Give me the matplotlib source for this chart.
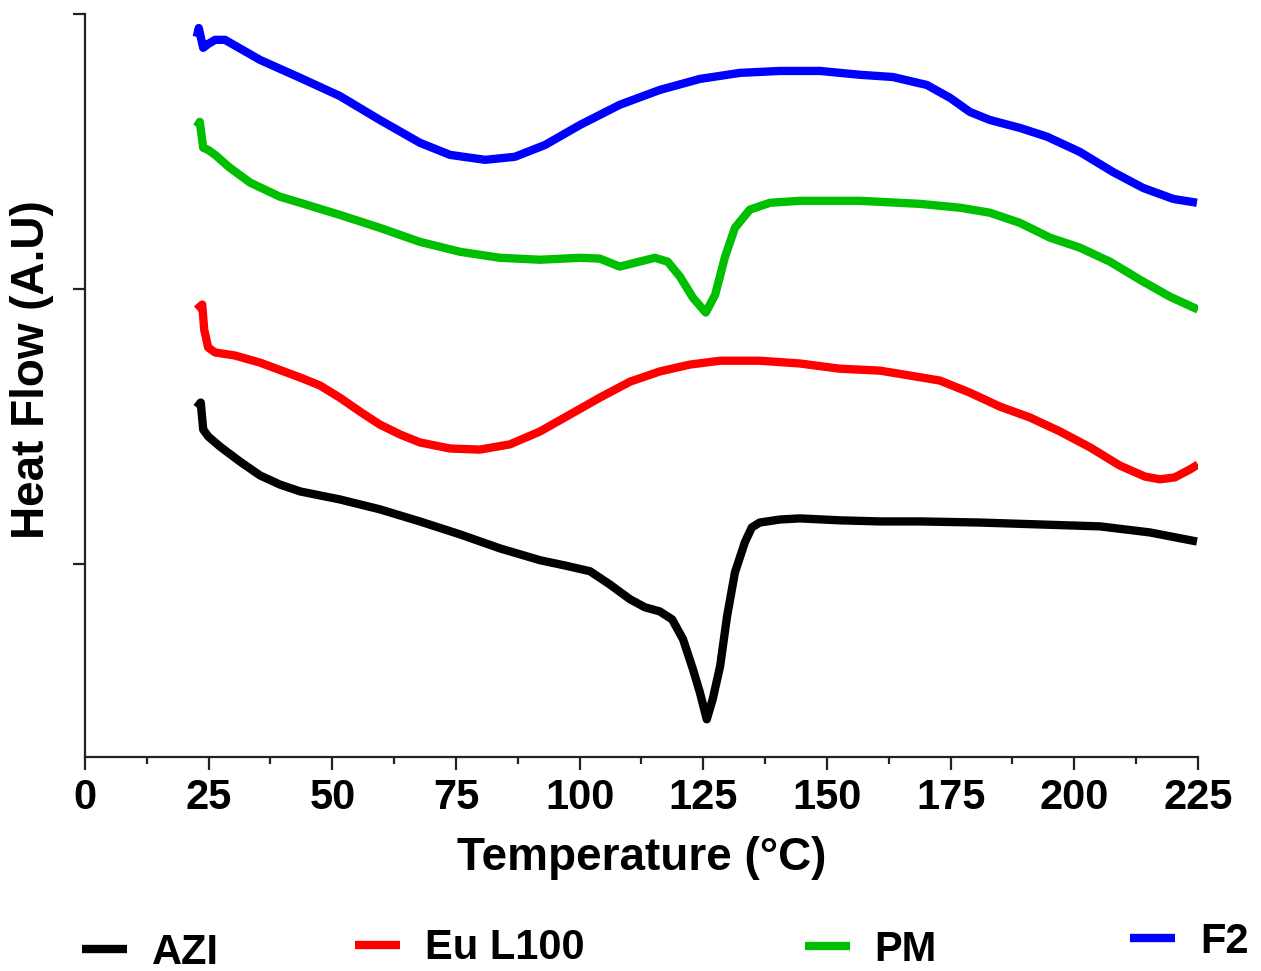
import matplotlib
matplotlib.use("Agg")
import matplotlib.pyplot as plt
from matplotlib.ticker import MultipleLocator

plt.rcParams['font.family'] = ['Liberation Sans', 'DejaVu Sans']
plt.rcParams['font.weight'] = 'bold'

# data (temperature in C, heat flow in arbitrary units)
t_azi = [22.6, 23.4, 23.9, 24.9, 27.3, 31.3, 35.4, 39.4, 43.5, 51.5, 59.6, 67.7, 75.8,
         83.9, 92.0, 97.0, 102.1, 106.1, 110.2, 113.2, 116.2, 118.7, 120.9, 122.9,
         124.3, 125.7, 126.9, 128.4, 129.8, 131.4, 133.4, 134.8, 136.4, 140.5, 144.5,
         152.6, 160.7, 168.8, 180.9, 193.0, 205.2, 215.3, 224.8]
hf_azi = [0.570, 0.588, 0.490, 0.465, 0.428, 0.374, 0.323, 0.290, 0.265, 0.236, 0.200,
          0.156, 0.109, 0.058, 0.015, -0.004, -0.025, -0.073, -0.127, -0.156, -0.171,
          -0.200, -0.272, -0.381, -0.465, -0.563, -0.490, -0.370, -0.189, -0.029, 0.080,
          0.134, 0.152, 0.163, 0.167, 0.160, 0.156, 0.156, 0.152, 0.145, 0.138, 0.116,
          0.083]

t_eu = [22.6, 23.7, 24.1, 24.9, 26.3, 30.3, 35.4, 43.5, 47.5, 51.5, 55.6, 59.6, 63.7,
        67.7, 73.8, 79.8, 85.9, 92.0, 98.0, 104.1, 110.2, 116.2, 122.3, 128.4, 136.4,
        144.5, 152.6, 160.7, 166.8, 172.8, 178.9, 185.0, 191.0, 197.1, 203.2, 209.2,
        214.3, 217.3, 220.3, 223.4, 225.0]
hf_eu = [0.926, 0.944, 0.853, 0.788, 0.770, 0.759, 0.733, 0.679, 0.650, 0.606, 0.555,
         0.508, 0.472, 0.443, 0.421, 0.417, 0.436, 0.483, 0.544, 0.606, 0.664, 0.701,
         0.726, 0.740, 0.740, 0.730, 0.711, 0.704, 0.686, 0.668, 0.624, 0.573, 0.534,
         0.483, 0.425, 0.359, 0.319, 0.309, 0.316, 0.345, 0.363]

t_pm = [22.6, 23.2, 23.9, 24.9, 26.3, 29.3, 33.4, 39.4, 43.5, 51.5, 59.6, 67.7, 75.8,
        83.9, 92.0, 100.1, 104.1, 108.1, 111.2, 115.2, 117.8, 120.3, 122.9, 125.5,
        127.4, 129.4, 131.4, 134.4, 138.5, 144.5, 156.7, 168.8, 176.9, 182.9, 189.0,
        195.1, 201.1, 207.2, 213.3, 219.3, 225.0]
hf_pm = [1.590, 1.608, 1.514, 1.506, 1.488, 1.441, 1.387, 1.336, 1.314, 1.270, 1.223,
         1.172, 1.136, 1.114, 1.107, 1.114, 1.111, 1.082, 1.096, 1.114, 1.100, 1.045,
         0.969, 0.915, 0.980, 1.118, 1.223, 1.289, 1.314, 1.321, 1.321, 1.310, 1.296,
         1.278, 1.241, 1.187, 1.151, 1.100, 1.034, 0.973, 0.926]

t_f2 = [22.6, 23.0, 23.9, 24.9, 26.3, 28.3, 35.4, 43.5, 51.5, 59.6, 67.7, 73.8, 80.9,
        86.9, 93.0, 100.1, 108.1, 116.2, 124.3, 132.4, 140.5, 148.6, 156.7, 163.3,
        170.2, 174.9, 178.9, 182.9, 189.0, 194.5, 201.1, 207.8, 213.9, 220.0, 224.8]
hf_f2 = [1.917, 1.949, 1.877, 1.891, 1.906, 1.906, 1.833, 1.768, 1.702, 1.615, 1.532,
         1.488, 1.470, 1.481, 1.524, 1.597, 1.670, 1.724, 1.764, 1.786, 1.793, 1.793,
         1.779, 1.771, 1.742, 1.695, 1.644, 1.615, 1.586, 1.554, 1.499, 1.426, 1.368,
         1.328, 1.314]

labels = ['AZI', 'Eu L100', 'PM', 'F2']
colors = ['#000000', '#ff0000', '#00bf00', '#0000ff']

fig = plt.figure(figsize=(12.61, 9.71), dpi=100)
ax = fig.add_axes([0.0674, 0.2204, 0.8826, 0.7652])

series = [(t_azi, hf_azi), (t_eu, hf_eu), (t_pm, hf_pm), (t_f2, hf_f2)]
lines = []
for (t, hf), lab, c in zip(series, labels, colors):
    ln, = ax.plot(t, hf, color=c, lw=6, label=lab, solid_capstyle='butt',
                  solid_joinstyle='round')
    lines.append(ln)

ax.set_xlim(0, 225)
ax.set_ylim(-0.70, 2.0)
ax.xaxis.set_major_locator(MultipleLocator(25))
ax.xaxis.set_minor_locator(MultipleLocator(12.5))
ax.set_yticks([0, 1, 2])
ax.set_yticklabels([])

for s in ['top', 'right']:
    ax.spines[s].set_visible(False)
for s in ['left', 'bottom']:
    ax.spines[s].set_linewidth(1.6)
    ax.spines[s].set_color('#222222')

ax.tick_params(axis='both', which='major', length=9, width=1.6, color='#222222',
               labelsize=30, pad=6)
ax.tick_params(axis='x', which='minor', length=5, width=1.6, color='#222222')

ax.set_xlabel('Temperature (°C)', fontsize=33, fontweight='bold')
ax.set_ylabel('Heat Flow (A.U)', fontsize=33, fontweight='bold')
ax.xaxis.set_label_coords(0.5, -0.106)
ax.yaxis.set_label_coords(-0.028, 0.521)

# separate legend entries along the bottom
leg_pos = [(0.065, 0.0185), (0.2815, 0.0236), (0.638, 0.0216), (0.896, 0.030)]
for ln, (x, y) in zip(lines, leg_pos):
    fig.legend(handles=[ln], loc='center left', bbox_to_anchor=(x, y), frameon=False,
               handlelength=1.08, handletextpad=0.6, borderpad=0,
               borderaxespad=0, prop={'weight': 'bold', 'size': 30})

fig.savefig('out.png', dpi=100)
